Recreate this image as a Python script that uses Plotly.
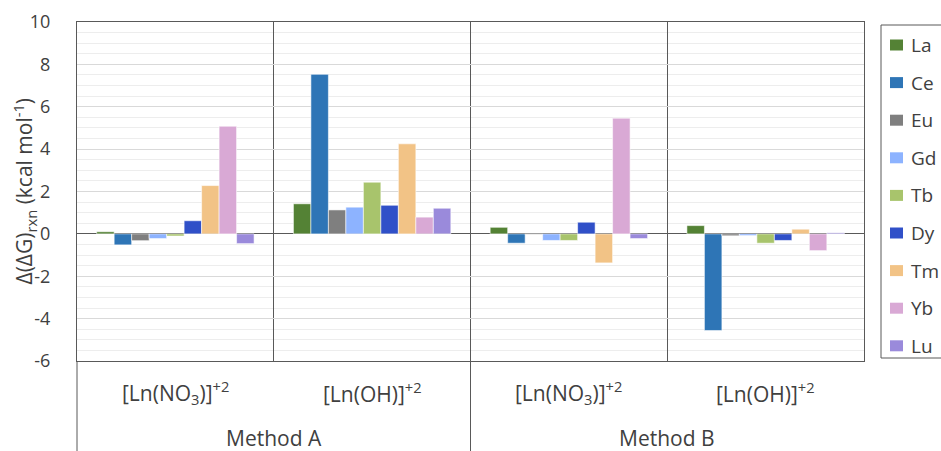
import plotly.graph_objects as go

# Two-level category axis: method (outer) and complex (inner)
methods = ["Method A", "Method A", "Method B", "Method B"]
complexes = [
    "[Ln(NO<sub>3</sub>)]<sup>+2</sup>",
    "[Ln(OH)]<sup>+2</sup>",
    "[Ln(NO<sub>3</sub>)]<sup>+2</sup>",
    "[Ln(OH)]<sup>+2</sup>",
]
method_labels = ["Method A", "Method B"]

# Δ(ΔG)rxn in kcal/mol for each lanthanide, per (method, complex)
La = [0.10, 1.42, 0.31, 0.39]
Ce = [-0.52, 7.53, -0.44, -4.56]
Eu = [-0.32, 1.13, -0.02, -0.09]
Gd = [-0.22, 1.26, -0.31, -0.08]
Tb = [-0.10, 2.44, -0.31, -0.44]
Dy = [0.62, 1.35, 0.55, -0.31]
Tm = [2.28, 4.25, -1.37, 0.22]
Yb = [5.08, 0.79, 5.46, -0.79]
Lu = [-0.46, 1.21, -0.22, 0.05]

series_names = ["La", "Ce", "Eu", "Gd", "Tb", "Dy", "Tm", "Yb", "Lu"]
series_values = [La, Ce, Eu, Gd, Tb, Dy, Tm, Yb, Lu]
series_colors = ["#548235", "#2E75B6", "#7F7F7F", "#8DB3FF", "#A8C46C",
                 "#3050C8", "#F2C386", "#D9A9D5", "#9A8ADB"]

y_tick_values = [-6, -4, -2, 0, 2, 4, 6, 8, 10]
y_tick_labels = ["-6", "-4", "-2", "0", "2", "4", "6", "8", "10"]

FONT = "Open Sans"
TXT = "#404040"
AXLINE = "#595959"

W, H = 941, 451
ML, MR, MT, MB = 77, 77, 22, 90
PW, PH = W - ML - MR, H - MT - MB


def px_x(p):
    """Pixel column -> paper x."""
    return (p - ML) / PW


def px_y(p):
    """Pixel row -> paper y."""
    return (H - MB - p) / PH


fig = go.Figure()
# x positions are (method, complex) pairs so repeated complex names stay distinct
for name, vals, col in zip(series_names, series_values, series_colors):
    fig.add_trace(go.Bar(
        name=name,
        x=[methods, complexes],
        y=vals,
        marker=dict(color=col, line=dict(color="rgba(255,255,255,0.55)", width=1)),
        showlegend=False,
    ))

fig.update_layout(
    width=W,
    height=H,
    margin=dict(l=ML, r=MR, t=MT, b=MB, autoexpand=False),
    plot_bgcolor="white",
    paper_bgcolor="white",
    barmode="group",
    bargap=0.2,
    bargroupgap=0,
    font=dict(family=FONT, size=18, color=TXT),
)

fig.update_yaxes(
    range=[-6, 10],
    tickmode="array",
    tickvals=y_tick_values,
    ticktext=y_tick_labels,
    showgrid=True,
    gridcolor="#D9D9D9",
    gridwidth=1,
    minor=dict(dtick=0.5, tick0=0, showgrid=True, gridcolor="#EDEDED", gridwidth=1),
    zeroline=True,
    zerolinecolor=AXLINE,
    zerolinewidth=1,
    showline=True,
    mirror=True,
    linecolor=AXLINE,
    linewidth=1,
    ticks="",
    ticklabelstandoff=22,
    tickfont=dict(family=FONT, size=18, color=TXT),
)

fig.update_xaxes(
    type="multicategory",
    tickson="boundaries",
    showgrid=True,
    gridcolor=AXLINE,
    gridwidth=1,
    showline=True,
    mirror=True,
    linecolor=AXLINE,
    linewidth=1,
    ticks="",
    showticklabels=False,
    showdividers=False,
)

# Category labels: inner level (complex) and outer level (method)
n_cat = len(complexes)
for i, lab in enumerate(complexes):
    fig.add_annotation(
        text=lab, xref="x domain", yref="paper",
        x=(i + 0.5) / n_cat, y=px_y(392),
        xanchor="center", yanchor="middle", showarrow=False,
        font=dict(family=FONT, size=21, color=TXT),
    )
n_meth = len(method_labels)
for j, lab in enumerate(method_labels):
    fig.add_annotation(
        text=lab, xref="x domain", yref="paper",
        x=(j + 0.5) / n_meth, y=px_y(438),
        xanchor="center", yanchor="middle", showarrow=False,
        font=dict(family=FONT, size=21, color=TXT),
    )
    # divider at the left edge of each method block, running to the bottom
    fig.add_shape(
        type="line", xref="x domain", yref="paper",
        x0=j / n_meth, x1=j / n_meth, y0=0, y1=px_y(H),
        line=dict(color=AXLINE, width=1),
    )

# Rotated y-axis title
fig.add_annotation(
    text="Δ(ΔG)<sub>rxn</sub> (kcal mol<sup>-1</sup>)",
    xref="paper", yref="paper",
    x=px_x(24), y=0.5,
    xanchor="center", yanchor="middle",
    textangle=-90,
    showarrow=False,
    font=dict(family=FONT, size=21, color=TXT),
)

# Legend panel on the right
fig.add_shape(
    type="rect", xref="paper", yref="paper",
    x0=px_x(881), x1=px_x(990), y0=px_y(358), y1=px_y(25),
    line=dict(color=AXLINE, width=1), fillcolor="white",
)
for k, (name, col) in enumerate(zip(series_names, series_colors)):
    cy = 45 + k * 37.6
    fig.add_shape(
        type="rect", xref="paper", yref="paper",
        x0=px_x(890), x1=px_x(903), y0=px_y(cy + 5.5), y1=px_y(cy - 5.5),
        line=dict(width=0), fillcolor=col,
    )
    fig.add_annotation(
        text=name, xref="paper", yref="paper",
        x=px_x(909), y=px_y(cy),
        xanchor="left", yanchor="middle", showarrow=False,
        font=dict(family=FONT, size=19, color=TXT),
    )

fig.write_html("out.html")
